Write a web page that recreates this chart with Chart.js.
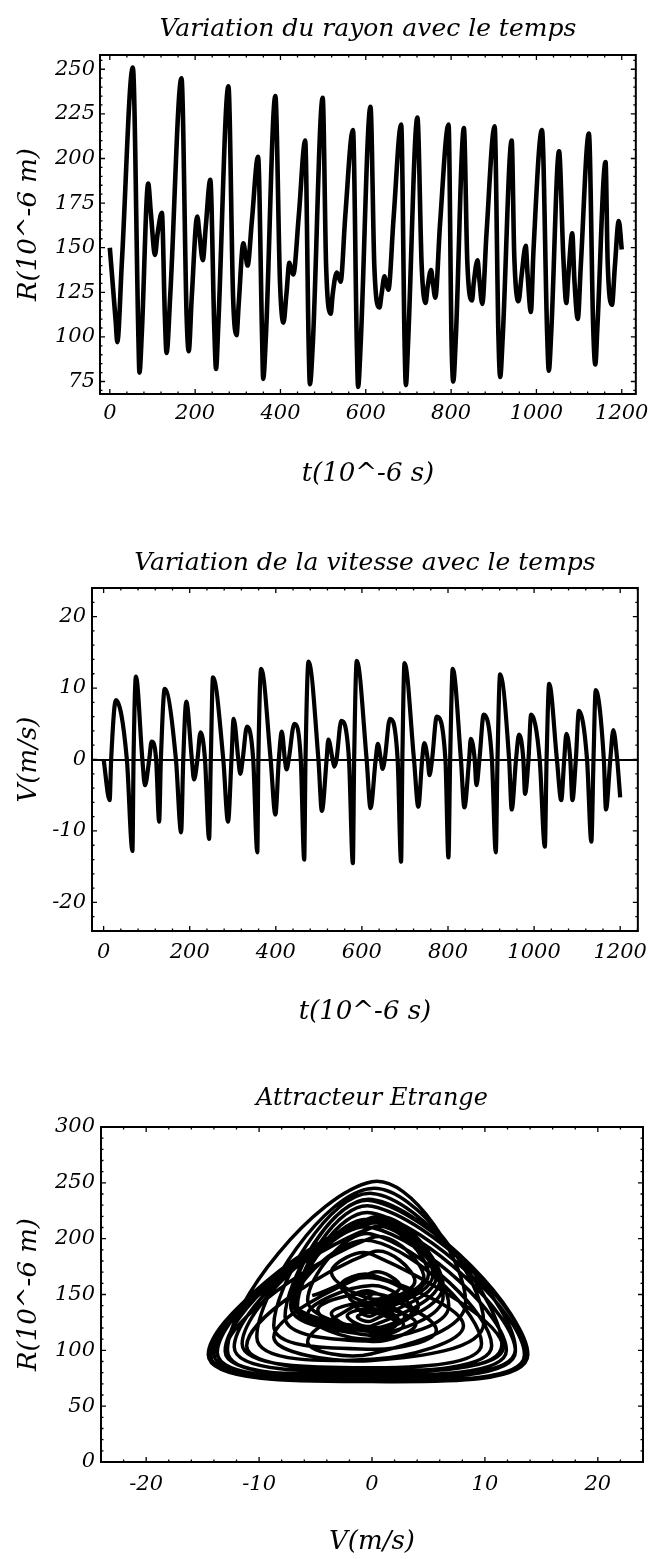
<!DOCTYPE html>
<html lang="fr">
<head>
<meta charset="utf-8">
<title>Bulle : rayon, vitesse et attracteur</title>
<script src="https://cdn.jsdelivr.net/npm/chart.js@4.4.1/dist/chart.umd.min.js"></script>
<style>
  html, body { margin: 0; padding: 0; background: #fff; }
  body { width: 656px; height: 1559px; position: relative; overflow: hidden; }
  canvas { position: absolute; left: 0; display: block; }
</style>
</head>
<body>
<canvas id="graphRayon" width="656" height="530" style="top:0px"></canvas>
<canvas id="graphVitesse" width="656" height="510" style="top:530px"></canvas>
<canvas id="graphPhase" width="656" height="519" style="top:1040px"></canvas>
<script>
// Simulation samples: time (µs), bubble radius (µm) and wall velocity (m/s)
const temps = [
  0, 14, 17.5, 28.5, 54, 67, 69.5, 75, 90, 96, 106, 111.5, 122, 129, 133, 142,
  168, 180, 185, 192, 205, 210, 218, 225, 235.5, 245, 249, 254, 278, 289, 297, 302,
  313, 317.5, 323, 333, 347.5, 357, 359.5, 366, 388, 399, 407, 414, 421, 425, 430, 443,
  458, 466, 469, 476, 499, 507, 518, 522, 532, 536, 541, 552, 570, 579, 582, 588,
  611, 620, 632, 637, 644, 648, 653, 665, 683, 691, 694, 699, 721, 731, 740, 745,
  753, 757, 763, 774, 794, 801, 805, 811, 830, 838, 849, 853, 862, 866, 873, 883,
  902, 911, 915, 921, 942, 948, 958, 965, 975, 979, 987, 993, 1013, 1025, 1029, 1035,
  1053, 1063, 1070, 1075, 1084, 1089, 1097, 1104, 1123, 1133, 1138, 1143, 1162, 1167, 1177, 1184,
  1193, 1200
];
const rayon = [
  150, 108, 97, 143, 251, 100, 80, 102, 186, 170, 146, 157, 169.5, 112, 91, 125,
  245, 112, 92, 122, 167.5, 158, 143, 162, 188, 104, 82, 105, 240.5, 122, 101, 118,
  152.5, 147, 140, 165, 201, 99, 76.5, 101, 235, 130, 108, 124, 141.5, 138, 135, 168,
  210, 97, 73.5, 97, 234, 140, 113, 123, 136, 134, 131, 168, 216, 96, 72, 96,
  229, 140, 116.5, 124, 134, 130, 126.5, 166, 219, 96, 73, 96, 223, 140, 119, 128,
  137.5, 131, 122, 163, 219, 98, 75, 99, 217, 142, 120.5, 130, 143, 133, 118.5, 158,
  218, 100, 77.5, 100, 210, 146, 120, 134, 151, 136, 114, 148, 216, 103, 81, 104,
  204, 145, 119, 135, 158, 132, 110, 140, 214, 106, 84.5, 106, 198, 142, 118, 140,
  165, 149
];
const vitesse = [
  0, -5.7, 0, 8.3, 0, -12.8, 0, 11.6, 0, -3.6, 0, 2.5, 0, -8.7, 0, 9.9,
  0, -10.2, 0, 8.1, 0, -2.8, 0, 3.8, 0, -11.1, 0, 11.5, 0, -8.7, 0, 5.7,
  0, -2.0, 0, 4.6, 0, -13.0, 0, 12.7, 0, -7.7, 0, 3.9, 0, -1.4, 0, 5.0,
  0, -14.0, 0, 13.7, 0, -7.2, 0, 2.8, 0, -1.0, 0, 5.4, 0, -14.5, 0, 13.8,
  0, -6.8, 0, 2.2, 0, -1.3, 0, 5.7, 0, -14.3, 0, 13.5, 0, -6.6, 0, 2.3,
  0, -2.2, 0, 6.0, 0, -13.7, 0, 12.7, 0, -6.7, 0, 2.9, 0, -3.6, 0, 6.3,
  0, -13.0, 0, 11.9, 0, -7.0, 0, 3.5, 0, -4.8, 0, 6.3, 0, -12.2, 0, 10.6,
  0, -5.7, 0, 3.6, 0, -5.7, 0, 6.8, 0, -11.5, 0, 9.7, 0, -7.0, 0, 4.1,
  0, -5.3
];

// Tick labels of each axis
const ticksTemps = [0, 200, 400, 600, 800, 1000, 1200];
const ticksRayon = [75, 100, 125, 150, 175, 200, 225, 250];
const ticksVitesse = [-20, -10, 0, 10, 20];
const ticksRayonPhase = [0, 50, 100, 150, 200, 250, 300];
const ticksVitessePhase = [-20, -10, 0, 10, 20];

const encre = '#000000';
const famille = '"DejaVu Serif", "Liberation Serif", serif';
const policeGraduation = { family: famille, style: 'italic', weight: 'normal', size: 21, lineHeight: 1.2 };
const policeAxe = { family: famille, style: 'italic', weight: 'normal', size: 26, lineHeight: 1 };

// Frame with inward major and minor ticks on the four sides
const cadre = {
  id: 'cadre',
  afterDatasetsDraw(chart, args, o) {
    const { ctx, chartArea: a } = chart;
    const sx = chart.scales.x, sy = chart.scales.y;
    const marques = (scale, pas) => {
      const majeures = scale.ticks.map(t => t.value);
      const res = [];
      const k0 = Math.ceil(scale.min / pas - 1e-9), k1 = Math.floor(scale.max / pas + 1e-9);
      for (let k = k0; k <= k1; k++) {
        const v = k * pas;
        const maj = majeures.some(m => Math.abs(m - v) < 1e-6);
        res.push([scale.getPixelForValue(v), maj ? 5 : 2.5]);
      }
      return res;
    };
    ctx.save();
    ctx.strokeStyle = encre;
    ctx.lineWidth = 1.3;
    ctx.beginPath();
    for (const [p, l] of marques(sx, o.pasX)) {
      ctx.moveTo(p, a.bottom); ctx.lineTo(p, a.bottom - l);
      ctx.moveTo(p, a.top); ctx.lineTo(p, a.top + l);
    }
    for (const [p, l] of marques(sy, o.pasY)) {
      ctx.moveTo(a.left, p); ctx.lineTo(a.left + l, p);
      ctx.moveTo(a.right, p); ctx.lineTo(a.right - l, p);
    }
    ctx.stroke();
    ctx.lineWidth = 2;
    ctx.strokeRect(a.left, a.top, a.right - a.left, a.bottom - a.top);
    ctx.restore();
  }
};

function axe(opts) {
  return {
    type: 'linear',
    bounds: 'data',
    min: opts.min,
    max: opts.max,
    afterBuildTicks: s => { s.ticks = opts.ticks.map(v => ({ value: v })); },
    afterFit: opts.fit,
    grid: opts.grid || { display: false, drawTicks: false },
    border: { display: false },
    ticks: {
      font: policeGraduation, color: encre, padding: opts.pad,
      maxRotation: 0, autoSkip: false, callback: v => String(v)
    },
    title: { display: true, text: opts.titre, font: policeAxe, color: encre, padding: opts.titrePad }
  };
}

function base(titre, taille, padTitre, padding, pas) {
  return {
    responsive: false,
    animation: false,
    devicePixelRatio: 1,
    layout: { padding },
    plugins: {
      legend: { display: false },
      tooltip: { enabled: false },
      title: {
        display: true, text: titre, fullSize: false, color: encre,
        font: { family: famille, style: 'italic', weight: 'normal', size: taille, lineHeight: 1 },
        padding: padTitre
      },
      cadre: pas
    }
  };
}

// Radius against time
const optR = base('Variation du rayon avec le temps', 25, { top: 16.5, bottom: 13.5 },
  { left: 0, right: 14, top: 0, bottom: 43 }, { pasX: 40, pasY: 5 });
optR.scales = {
  x: axe({ min: -23, max: 1233, ticks: ticksTemps, pad: 7, titre: 't(10^-6 s)',
    titrePad: { top: 0, bottom: 0 }, fit: s => { s.height = 93; } }),
  y: axe({ min: 68, max: 258, ticks: ticksRayon, pad: 5, titre: 'R(10^-6 m)',
    titrePad: { top: 16, bottom: 0 }, fit: s => { s.width = 100; } })
};
new Chart(document.getElementById('graphRayon'), {
  type: 'line',
  data: { datasets: [{
    data: temps.map((t, i) => ({ x: t, y: rayon[i] })),
    borderColor: encre, borderWidth: 4.6, pointRadius: 0,
    cubicInterpolationMode: 'monotone', fill: false
  }] },
  options: optR,
  plugins: [cadre]
});

// Velocity against time
const optV = base('Variation de la vitesse avec le temps', 25, { top: 20.5, bottom: 12.5 },
  { left: 0, right: 15, top: 0, bottom: 15 }, { pasX: 40, pasY: 2 });
optV.scales = {
  x: axe({ min: -27, max: 1241, ticks: ticksTemps, pad: 8.5, titre: 't(10^-6 s)',
    titrePad: { top: 0, bottom: 0 }, fit: s => { s.height = 94; } }),
  y: axe({ min: -24, max: 24, ticks: ticksVitesse, pad: 6, titre: 'V(m/s)',
    titrePad: { top: 16, bottom: 0 }, fit: s => { s.width = 92; },
    grid: {
      display: true, drawTicks: false, drawOnChartArea: true,
      color: c => (c.tick && c.tick.value === 0 ? encre : 'rgba(0,0,0,0)'), lineWidth: 2
    } })
};
new Chart(document.getElementById('graphVitesse'), {
  type: 'line',
  data: { datasets: [{
    data: temps.map((t, i) => ({ x: t, y: vitesse[i] })),
    borderColor: encre, borderWidth: 4.2, pointRadius: 0,
    cubicInterpolationMode: 'monotone', fill: false
  }] },
  options: optV,
  plugins: [cadre]
});

// Phase portrait: radius against velocity
const optP = base('Attracteur Etrange', 24, { top: 46.3, bottom: 16.7 },
  { left: 0, right: 13, top: 0, bottom: 3.5 }, { pasX: 2, pasY: 10 });
optP.scales = {
  x: axe({ min: -24, max: 24, ticks: ticksVitessePhase, pad: 9.5, titre: 'V(m/s)',
    titrePad: { top: 0, bottom: 0 }, fit: s => { s.height = 93.5; } }),
  y: axe({ min: 0, max: 300, ticks: ticksRayonPhase, pad: 6, titre: 'R(10^-6 m)',
    titrePad: { top: 16, bottom: 0 }, fit: s => { s.width = 101; } })
};
new Chart(document.getElementById('graphPhase'), {
  type: 'scatter',
  data: { datasets: [{
    data: temps.map((t, i) => ({ x: vitesse[i], y: rayon[i] })),
    showLine: true, borderColor: encre, borderWidth: 3.5, pointRadius: 0,
    tension: 0.4, fill: false
  }] },
  options: optP,
  plugins: [cadre]
});
</script>
</body>
</html>
